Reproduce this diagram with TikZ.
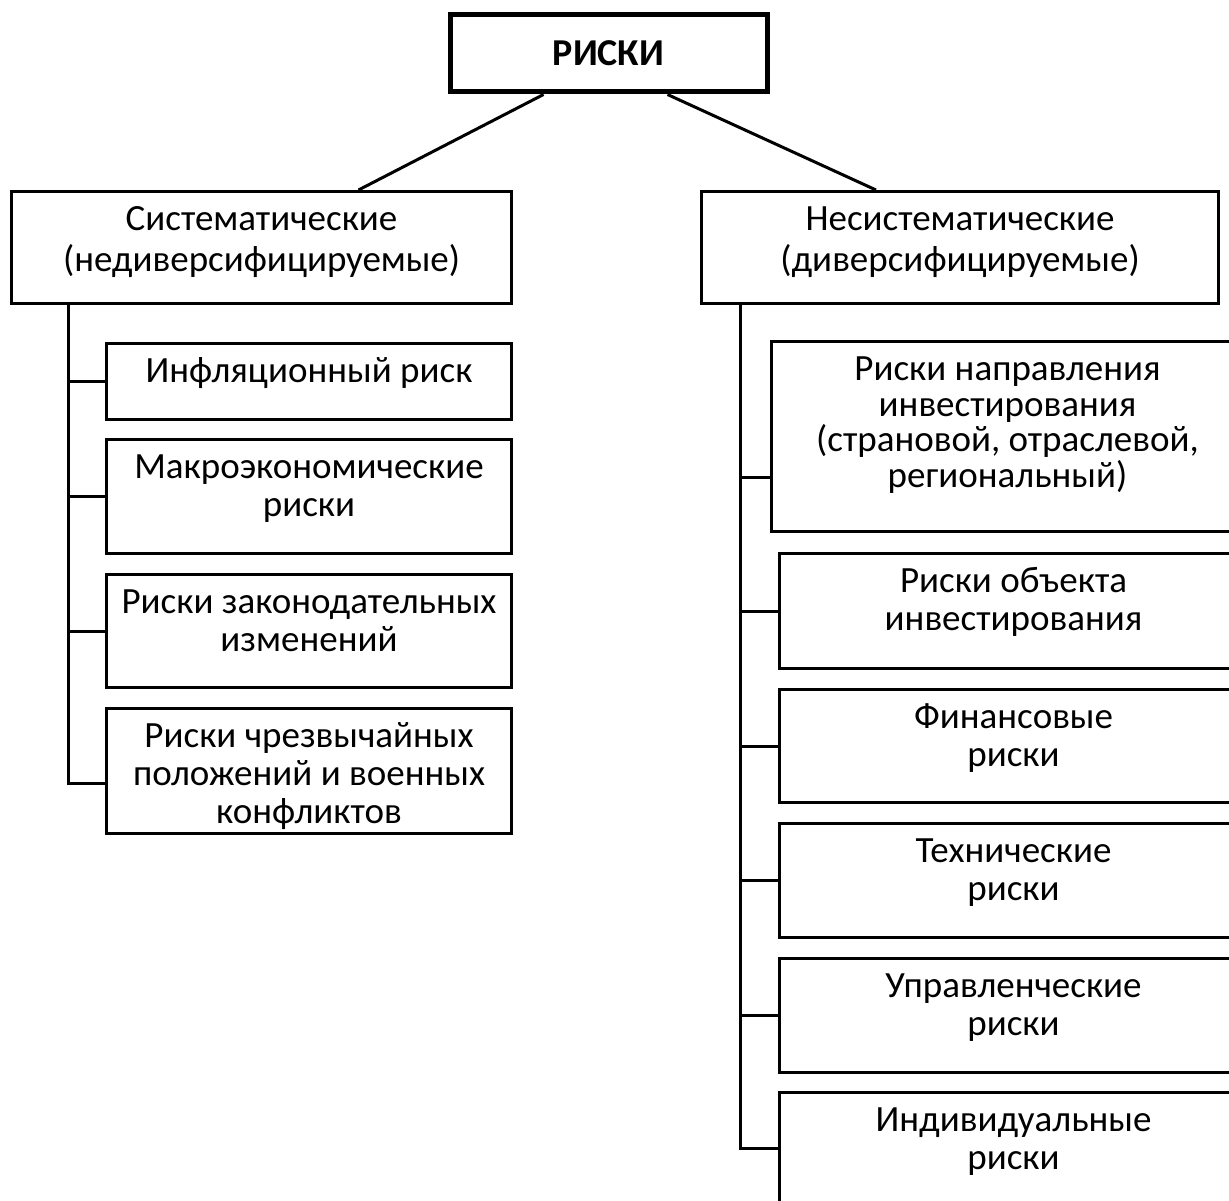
\documentclass[tikz,border=0pt]{standalone}
\usepackage{fontspec}
\setmainfont{Carlito}
\newcommand\bodyfont{\fontsize{37}{38}\selectfont}
\tikzset{
 box/.style={draw,line width=3pt,anchor=north west,inner xsep=0pt,inner ysep=10pt,
  align=center,font=\bodyfont},
 oneline/.style={text height=29pt},
 twolines/.style={text height=67pt},
 conn/.style={line width=3pt},
}
\begin{document}
\begin{tikzpicture}[x=1pt,y=-1pt]
 \useasboundingbox (0,0) rectangle (1229,1201);
 \node[draw,line width=5pt,minimum width=317pt,minimum height=77pt,font=\bfseries\fontsize{38}{40}\selectfont] (risks) at (608.5,53.5) {РИСКИ};
 % two groups
 \node[box,minimum width=500pt,text height=70pt,text depth=22pt,font=\fontsize{37}{41}\selectfont] (sys) at (10,190) {Систематические\\(недиверсифицируемые)};
 \node[box,minimum width=517pt,text height=70pt,text depth=22pt,font=\fontsize{37}{41}\selectfont] (unsys) at (700,190) {Несистематические\\(диверсифицируемые)};
 \draw[conn] ([xshift=-65pt]risks.south) -- ([xshift=97pt]sys.north);
 \draw[conn] ([xshift=59pt]risks.south) -- ([xshift=-84pt]unsys.north);
 % systematic risks
 \node[box,oneline,minimum width=405pt,text depth=27pt] (c1) at (105,342) {Инфляционный риск};
 \node[box,twolines,minimum width=405pt,text depth=27pt] (c2) at (105,438) {Макроэкономические\\риски};
 \node[box,twolines,minimum width=405pt,text depth=26pt] (c3) at (105,573) {Риски законодательных\\изменений};
 \node[box,minimum width=405pt,text height=105pt,text depth=0pt] (c4) at (105,707) {Риски чрезвычайных\\положений и военных\\конфликтов};
 \coordinate (lend) at (68,783);
 \draw[conn] ([xshift=58pt]sys.south west) -- (lend) -- (lend -| c4.west);
 \foreach \b in {c1,c2,c3}
  \draw[conn] (\b.west -| lend) -- (\b.west);
 % unsystematic risks
 \node[box,minimum width=472pt,text height=135.5pt,text depth=34.5pt,font=\fontsize{37}{35.5}\selectfont] (r1) at (770,340) {Риски направления\\инвестирования\\(страновой, отраслевой,\\региональный)};
 \node[box,twolines,minimum width=468pt,text depth=28pt] (r2) at (778,552) {Риски объекта\\инвестирования};
 \node[box,twolines,minimum width=468pt,text depth=26pt] (r3) at (778,688) {Финансовые\\риски};
 \node[box,twolines,minimum width=468pt,text depth=27pt] (r4) at (778,822) {Технические\\риски};
 \node[box,twolines,minimum width=468pt,text depth=27pt] (r5) at (778,957) {Управленческие\\риски};
 \node[box,twolines,minimum width=468pt,text depth=27pt] (r6) at (778,1091) {Индивидуальные\\риски};
 \coordinate (rend) at (740,1148);
 \coordinate (r1b) at (740,477);
 \draw[conn] ([xshift=40pt]unsys.south west) -- (rend) -- (rend -| r6.west);
 \draw[conn] (r1b) -- (r1b -| r1.west);
 \foreach \b in {r2,r3,r4,r5}
  \draw[conn] (\b.west -| rend) -- (\b.west);
\end{tikzpicture}
\end{document}
